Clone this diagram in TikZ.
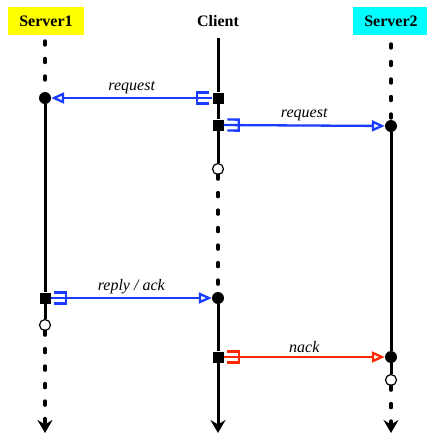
\documentclass[tikz,border=0pt]{standalone}
\usepackage{fontspec}
\setmainfont{Liberation Serif}
\usetikzlibrary{arrows.meta}

% tail of a message: a fork that opens back towards the sender
\pgfdeclarearrow{
  name = Fork,
  parameters = {\the\pgfarrowlength,\the\pgfarrowwidth,\the\pgfarrowlinewidth},
  setup code = {
    \pgfarrowssettipend{0pt}
    \pgfarrowssetlineend{0pt}
    \pgfarrowssetbackend{-\pgfarrowlength}
    \pgfarrowssetvisualbackend{-\pgfarrowlength}
    \pgfarrowsupperhullpoint{0pt}{.5\pgfarrowwidth}
    \pgfarrowsupperhullpoint{-\pgfarrowlength}{.5\pgfarrowwidth}
    \pgfarrowssavethe\pgfarrowlength
    \pgfarrowssavethe\pgfarrowwidth
    \pgfarrowssavethe\pgfarrowlinewidth
  },
  drawing code = {
    \pgfsetdash{}{0pt}
    \pgfsetlinewidth{\pgfarrowlinewidth}
    \pgfpathmoveto{\pgfqpoint{-.25\pgfarrowlength}{.5\pgfarrowwidth}}
    \pgfpathlineto{\pgfqpoint{-\pgfarrowlength}{.5\pgfarrowwidth}}
    \pgfpathlineto{\pgfqpoint{-\pgfarrowlength}{-.5\pgfarrowwidth}}
    \pgfpathlineto{\pgfqpoint{-.25\pgfarrowlength}{-.5\pgfarrowwidth}}
    \pgfusepathqstroke
  },
  defaults = {length = 14pt, width = 11pt, line width = +0pt 1}
}

\definecolor{msgblue}{RGB}{25,60,255}
\definecolor{msgred}{RGB}{255,40,0}
\definecolor{tagyellow}{RGB}{255,255,0}
\definecolor{tagcyan}{RGB}{0,255,255}

\tikzset{
  head/.style={font=\fontsize{16}{19}\selectfont\bfseries, minimum width=76pt, minimum height=28pt, inner sep=0pt},
  lifeline/.style={line width=3pt},
  idle/.style={line width=3.4pt, line cap=round, dash pattern=on 4pt off 13.5pt},
  recv/.style={circle, fill, inner sep=0pt, minimum size=12pt},
  send/.style={fill, inner sep=0pt, minimum size=11pt},
  stop/.style={circle, draw, fill=white, line width=1.2pt, inner sep=0pt, minimum size=11pt},
  msg/.style={line width=2.3pt, {Fork[length=15pt,width=11pt]}-{Triangle[open,fill=white,length=13pt,width=11pt]}},
  lbl/.style={midway, above, text=black, font=\fontsize{16}{19}\selectfont\itshape},
  down/.style={-{Stealth[length=13pt,width=15pt,inset=4.5pt]}}
}

\begin{document}
\begin{tikzpicture}[x=1pt,y=-1pt]
  \useasboundingbox (0,0) rectangle (427,437);

  % header boxes
  \node[head, fill=tagyellow] (s1) at (46,21) {Server1};
  \node[head] (c) at (218,21) {Client};
  \node[head, fill=tagcyan] (s2) at (391,21) {Server2};

  % Server1 events
  \coordinate (s1top) at (45,41);
  \node[recv] (s1req) at (45,98) {};
  \node[send] (s1rep) at (45,298) {};
  \node[stop] (s1end) at (45,325) {};
  \coordinate (s1bot) at (45,433);

  % Client events
  \coordinate (ctop) at (218,38);
  \node[send] (creq1) at (218,98) {};
  \node[send] (creq2) at (218,125) {};
  \node[stop] (cidle) at (218,169) {};
  \node[recv] (crep) at (218,298) {};
  \node[send] (cnack) at (218,357) {};
  \coordinate (cbot) at (218,433);

  % Server2 events
  \coordinate (s2top) at (391,44);
  \node[recv] (s2req) at (391,126) {};
  \node[recv] (s2nack) at (391,357) {};
  \node[stop] (s2end) at (391,380) {};
  \coordinate (s2bot) at (391,433);

  % lifelines
  \draw[idle] (s1top) -- (s1req);
  \draw[lifeline] (s1req) -- (s1rep) -- (s1end);
  \draw[idle, down] (s1end) -- (s1bot);

  \draw[lifeline] (ctop) -- (creq1) -- (creq2) -- (cidle);
  \draw[idle] (cidle) -- (crep);
  \draw[lifeline] (crep) -- (cnack);
  \draw[lifeline, down] (cnack) -- (cbot);

  \draw[idle] (s2top) -- (s2req);
  \draw[lifeline] (s2req) -- (s2nack) -- (s2end);
  \draw[idle, down] (s2end) -- (s2bot);

  % messages
  \draw[msg, msgblue] (creq1) -- node[lbl] {request} (s1req);
  \draw[msg, msgblue] (creq2) -- node[lbl] {request} (s2req);
  \draw[msg, msgblue] (s1rep) -- node[lbl] {reply / ack} (crep);
  \draw[msg, msgred] (cnack) -- node[lbl] {nack} (s2nack);
\end{tikzpicture}
\end{document}
